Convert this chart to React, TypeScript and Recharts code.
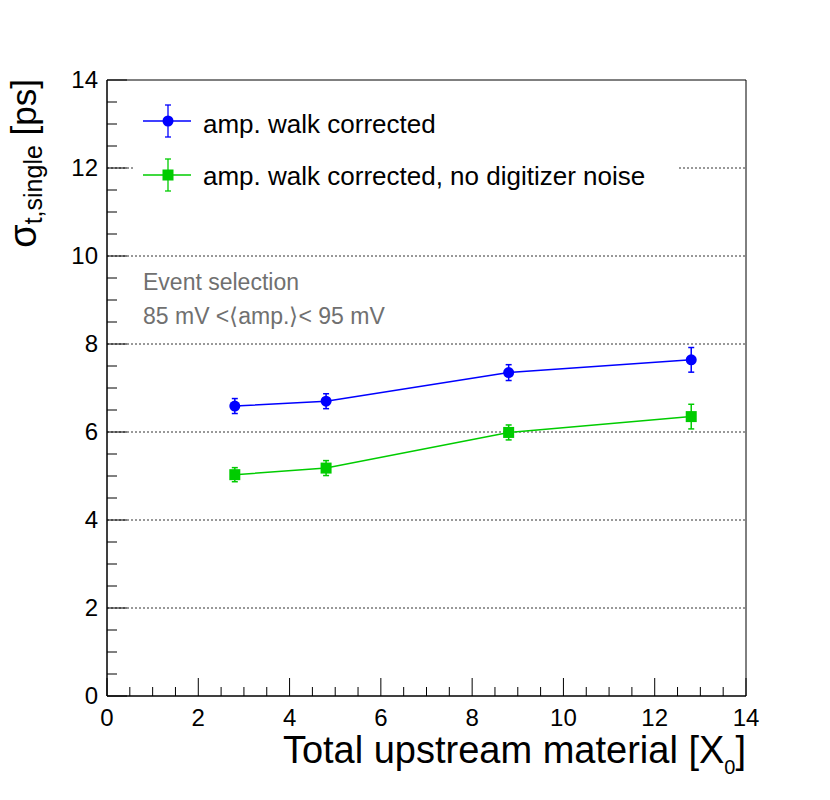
import { ComposedChart, Line, XAxis, YAxis, ErrorBar, ReferenceLine, ReferenceArea, Label } from "recharts";

const xValues = [2.8, 4.8, 8.8, 12.8];
const walkCorrected = [6.59, 6.7, 7.35, 7.64];
const walkCorrectedErr = [0.17, 0.17, 0.18, 0.28];
const noNoise = [5.03, 5.18, 5.99, 6.35];
const noNoiseErr = [0.16, 0.17, 0.17, 0.28];

const xTicks = [0, 0.5, 1, 1.5, 2, 2.5, 3, 3.5, 4, 4.5, 5, 5.5, 6, 6.5, 7, 7.5, 8, 8.5, 9, 9.5, 10, 10.5, 11, 11.5, 12, 12.5, 13, 13.5, 14];
const yTicks = [0, 0.5, 1, 1.5, 2, 2.5, 3, 3.5, 4, 4.5, 5, 5.5, 6, 6.5, 7, 7.5, 8, 8.5, 9, 9.5, 10, 10.5, 11, 11.5, 12, 12.5, 13, 13.5, 14];
const gridY = [2, 4, 6, 8, 10, 12];
const seriesNames = ["amp. walk corrected", "amp. walk corrected, no digitizer noise"];
const noteLines = ["Event selection", "85 mV <\u27E8amp.\u27E9< 95 mV"];

const BLUE = "#0000ff";
const GREEN = "#00cc00";
const FONT = "'Liberation Sans', Arial, sans-serif";

const data = xValues.map((x, i) => ({
  x,
  a: walkCorrected[i],
  aErr: walkCorrectedErr[i],
  b: noNoise[i],
  bErr: noNoiseErr[i],
}));

const XTick = (props: any) => {
  const { x, y, payload } = props;
  const v = payload.value;
  const major = v % 2 === 0;
  return (
    <g>
      <line x1={x} x2={x} y1={y} y2={y - (major ? 18 : 9)} stroke="#000" />
      {major && (
        <text x={x} y={y + 30} textAnchor="middle" fontSize={24} fontFamily={FONT} fill="#000">
          {v}
        </text>
      )}
    </g>
  );
};

const YTick = (props: any) => {
  const { x, y, payload } = props;
  const v = payload.value;
  const major = v % 2 === 0;
  return (
    <g>
      <line x1={x} x2={x + (major ? 20 : 10)} y1={y} y2={y} stroke="#000" />
      {major && (
        <text x={x - 9} y={y + 8} textAnchor="end" fontSize={24} fontFamily={FONT} fill="#000">
          {v}
        </text>
      )}
    </g>
  );
};

const SquareDot = (props: any) => {
  const { cx, cy, index } = props;
  return <rect key={`sq-${index}`} x={cx - 5.5} y={cy - 5.5} width={11} height={11} fill={GREEN} />;
};

const XTitle = () => (
  <text x={746} y={763} textAnchor="end" fontSize={38} fontFamily={FONT} fill="#000">
    Total upstream material [X
    <tspan fontSize={20} dy={11}>0</tspan>
    <tspan dy={-11}>]</tspan>
  </text>
);

const YTitle = () => (
  <text transform="rotate(-90)" x={-79} y={36} textAnchor="end" fontFamily={FONT} fill="#000">
    <tspan fontSize={38}>σ</tspan>
    <tspan fontSize={25} dy={6}>t,single</tspan>
    <tspan fontSize={35} dy={-6}> [ps]</tspan>
  </text>
);

function LegendMarker({ cx, cy, color, square }: { cx: number; cy: number; color: string; square?: boolean }) {
  return (
    <g>
      <line x1={cx - 25} x2={cx + 23} y1={cy} y2={cy} stroke={color} strokeWidth={1.3} />
      <line x1={cx} x2={cx} y1={cy - 16} y2={cy + 16} stroke={color} strokeWidth={1.3} />
      <line x1={cx - 3} x2={cx + 3} y1={cy - 16} y2={cy - 16} stroke={color} strokeWidth={1.3} />
      <line x1={cx - 3} x2={cx + 3} y1={cy + 16} y2={cy + 16} stroke={color} strokeWidth={1.3} />
      {square ? (
        <rect x={cx - 5.5} y={cy - 5.5} width={11} height={11} fill={color} />
      ) : (
        <circle cx={cx} cy={cy} r={5.5} fill={color} />
      )}
    </g>
  );
}

function LegendOverlay() {
  return (
    <svg width={830} height={800} style={{ position: "absolute", left: 0, top: 0, pointerEvents: "none" }}>
      <rect x={134} y={96} width={545} height={102} fill="#fff" />
      <LegendMarker cx={168} cy={121} color={BLUE} />
      <text x={203} y={133} fontSize={26} fontFamily={FONT} fill="#000">{seriesNames[0]}</text>
      <LegendMarker cx={168} cy={175} color={GREEN} square />
      <text x={203} y={185} fontSize={26} fontFamily={FONT} fill="#000">{seriesNames[1]}</text>
      <text x={143} y={290} fontSize={23} fontFamily={FONT} fill="#707070">{noteLines[0]}</text>
      <text x={143} y={324} fontSize={23} fontFamily={FONT} fill="#707070">{noteLines[1]}</text>
    </svg>
  );
}

export default function App() {
  return (
    <div style={{ position: "absolute", left: 0, top: 0, width: 830, height: 800, background: "#fff" }}>
      <ComposedChart width={830} height={800} data={data} margin={{ top: 80, right: 84, bottom: 44, left: 47 }}>
        <XAxis
          dataKey="x"
          type="number"
          domain={[0, 14]}
          ticks={xTicks}
          interval={0}
          height={60}
          tickSize={0}
          tickMargin={0}
          tickLine={false}
          tick={<XTick />}
          axisLine={{ stroke: "#000" }}
          allowDataOverflow
        >
          <Label content={<XTitle />} />
        </XAxis>
        <YAxis
          type="number"
          domain={[0, 14]}
          ticks={yTicks}
          interval={0}
          width={60}
          tickSize={0}
          tickMargin={0}
          tickLine={false}
          tick={<YTick />}
          axisLine={{ stroke: "#000" }}
          allowDataOverflow
        >
          <Label content={<YTitle />} />
        </YAxis>
        {gridY.map((v) => (
          <ReferenceLine key={v} y={v} stroke="#333" strokeDasharray="2 2" />
        ))}
        <ReferenceArea x1={0} x2={14} y1={0} y2={14} fill="none" stroke="#000" strokeOpacity={1} fillOpacity={0} />
        <Line
          dataKey="a"
          stroke={BLUE}
          strokeWidth={1.5}
          dot={{ r: 5.5, fill: BLUE, stroke: BLUE, strokeWidth: 0 }}
          isAnimationActive={false}
        >
          <ErrorBar dataKey="aErr" direction="y" width={3} stroke={BLUE} strokeWidth={1.5} isAnimationActive={false} />
        </Line>
        <Line
          dataKey="b"
          stroke={GREEN}
          strokeWidth={1.5}
          dot={<SquareDot />}
          isAnimationActive={false}
        >
          <ErrorBar dataKey="bErr" direction="y" width={3} stroke={GREEN} strokeWidth={1.5} isAnimationActive={false} />
        </Line>
      </ComposedChart>
      <LegendOverlay />
    </div>
  );
}
